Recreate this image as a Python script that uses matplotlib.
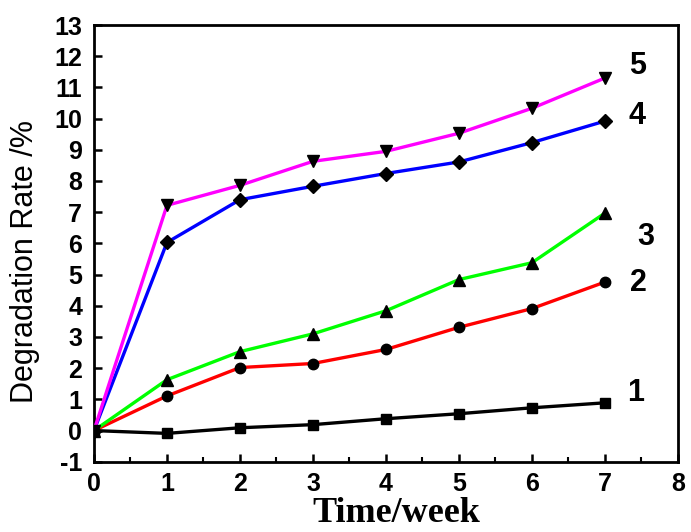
import numpy as np
import matplotlib
matplotlib.use("Agg")
import matplotlib.pyplot as plt
from matplotlib.ticker import MultipleLocator

weeks = [0, 1, 2, 3, 4, 5, 6, 7]
rate1 = [0, -0.09, 0.09, 0.19, 0.38, 0.54, 0.73, 0.89]
rate2 = [0, 1.11, 2.02, 2.15, 2.60, 3.31, 3.91, 4.76]
rate3 = [0, 1.63, 2.53, 3.10, 3.84, 4.84, 5.38, 6.97]
rate4 = [0, 6.03, 7.40, 7.83, 8.24, 8.61, 9.23, 9.92]
rate5 = [0, 7.22, 7.86, 8.63, 8.95, 9.53, 10.33, 11.30]

series = [rate1, rate2, rate3, rate4, rate5]
names = ["1", "2", "3", "4", "5"]
colors = ["black", "red", "#00ff00", "blue", "#ff00ff"]
markers = ["s", "o", "^", "D", "v"]
msizes = [6.5, 7.5, 8.5, 7, 8.5]
label_pos = [(7.31, 1.21), (7.34, 4.73), (7.44, 6.2), (7.33, 10.09), (7.33, 11.67)]

plt.rcParams["font.family"] = ["Liberation Sans", "DejaVu Sans"]
plt.rcParams["axes.unicode_minus"] = False

fig = plt.figure(figsize=(6.91, 5.32), dpi=100)
ax = fig.add_axes([0.136, 0.132, 0.845, 0.821])

for vals, c, m, ms in zip(series, colors, markers, msizes):
    ax.plot(weeks, vals, color=c, lw=2.4, marker=m, ms=ms,
            mfc="black", mec="black", zorder=3)

# curve numbers next to the last points
for name, (tx, ty) in zip(names, label_pos):
    ax.text(tx, ty, name, fontsize=22, fontweight="bold", ha="left", va="center")

ax.set_xlim(0, 8)
ax.set_ylim(-1, 13)
ax.xaxis.set_major_locator(MultipleLocator(1))
ax.xaxis.set_minor_locator(MultipleLocator(0.5))
ax.yaxis.set_major_locator(MultipleLocator(1))

ax.tick_params(axis="both", which="major", direction="in", length=6, width=1.8,
               labelsize=18, top=False, right=False)
ax.tick_params(axis="x", which="minor", direction="in", length=3.5, width=1.5)
for lab in ax.get_xticklabels() + ax.get_yticklabels():
    lab.set_fontweight("bold")
ax.tick_params(axis="x", pad=7.5)
ax.tick_params(axis="y", pad=8.5)

for sp in ax.spines.values():
    sp.set_linewidth(2)

ax.set_xlabel("Time/week", fontsize=26, fontweight="bold",
              family=["Liberation Serif", "DejaVu Serif"])
ax.set_ylabel("Degradation Rate /%", fontsize=22)
ax.xaxis.set_label_coords(0.518, -0.08)
ax.yaxis.set_label_coords(-0.092, 0.458)

fig.savefig("out.png", dpi=100)
